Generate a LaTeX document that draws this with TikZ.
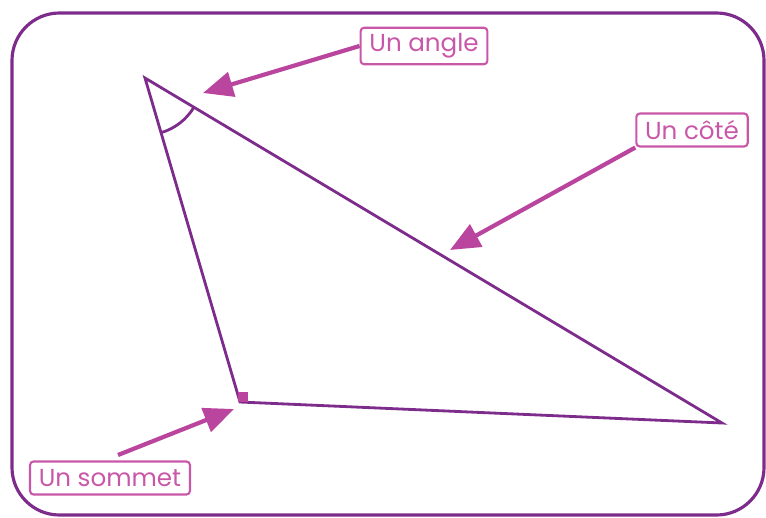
\documentclass[tikz,border=0pt]{standalone}
\usepackage{fontspec}
\setsansfont{Poppins}
\usetikzlibrary{arrows.meta, angles}
\definecolor{frameViolet}{HTML}{7E2C8C}
\definecolor{arrowPink}{HTML}{BA459E}
\definecolor{labelPink}{HTML}{C957A8}

\begin{document}
\begin{tikzpicture}[x=0.02cm, y=-0.02cm, >={Triangle[length=0.6cm, width=0.5cm]},
    labelbox/.style={draw=labelPink, line width=1.2pt, rounded corners=2pt,
        text=labelPink, font=\sffamily\fontsize{14}{16}\selectfont,
        inner xsep=5pt, minimum height=0.66cm},
    pointer/.style={->, arrowPink, line width=2.4pt}]

    \useasboundingbox (0,0) rectangle (766,517);

    % outer frame
    \draw[frameViolet, line width=1.8pt, rounded corners=0.95cm] (12,13) rectangle (764,515);

    % triangle
    \coordinate (A) at (145,78);
    \coordinate (B) at (240,402);
    \coordinate (C) at (722,423);
    \draw[frameViolet, line width=1.6pt, line join=miter] (A) -- (B) -- (C) -- cycle;

    % angle mark at A and square at B
    \pic[draw=frameViolet, line width=1.6pt, angle radius=1.14cm] {angle=B--A--C};
    \fill[arrowPink] (B) ++(-2,-10) rectangle ++(10,10);

    % labels
    \node[labelbox] (angle) at (424,46) {Un angle};
    \node[labelbox] (cote) at (692,130) {Un côté};
    \node[labelbox] (sommet) at (110,478) {Un sommet};

    \coordinate (angletip) at (203,93);
    \coordinate (cotetip) at (450,250);
    \coordinate (sommettip) at (234,409);
    \coordinate (sommettail) at (118,455);

    \draw[pointer] (angle.west) -- (angletip);
    \draw[pointer] (cote.south west) -- (cotetip);
    \draw[pointer] (sommettail) -- (sommettip);

\end{tikzpicture}
\end{document}
